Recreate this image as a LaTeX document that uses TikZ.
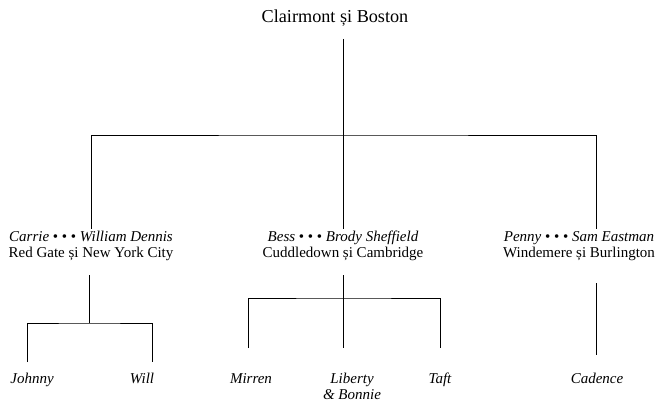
\documentclass[tikz,border=0pt]{standalone}
\usepackage{fontspec}
\setmainfont{Liberation Serif}
\usetikzlibrary{positioning}

\tikzset{
	family/.style={align=center, inner sep=0pt, anchor=base, font=\fontsize{15}{16.5}\selectfont},
	head/.style={family, font=\fontsize{18.2}{20}\selectfont},
	kid/.style={family, font=\fontsize{15}{16}\selectfont\itshape},
	branch/.style={draw=black, line width=0.8pt}
}

\begin{document}
\begin{tikzpicture}[x=1pt,y=-1pt]
	\useasboundingbox (0,0) rectangle (664,406);
	% ROOT
	\node[head] (root) at (335,23) {Clairmont și Boston};
	% COUPLES
	\node[family] (carrie) at (91,258) {\textit{Carrie} • • • \textit{William Dennis}\\Red Gate și New York City};
	\node[family] (bess) at (343,258) {\textit{Bess} • • • \textit{Brody Sheffield}\\Cuddledown și Cambridge};
	\node[family] (penny) at (579,258) {\textit{Penny} • • • \textit{Sam Eastman}\\Windemere și Burlington};
	% CHILDREN
	\node[kid] (johnny) at (32,383) {Johnny};
	\node[kid] (will) at (142,383) {Will};
	\node[kid] (mirren) at (251,383) {Mirren};
	\node[kid] (liberty) at (352,399) {Liberty\\\& Bonnie};
	\node[kid] (taft) at (440,383) {Taft};
	\node[kid] (cadence) at (597,383) {Cadence};

	% FIRST GENERATION
	\coordinate (root stem) at (343,39);
	\coordinate (top fork) at (343,135);
	\coordinate (carrie stem) at (91,229);
	\coordinate (bess stem) at (343,229);
	\coordinate (penny stem) at (596,229);
	\draw[branch] (root stem) -- (bess stem);
	\draw[branch] (carrie stem) |- (top fork) -| (penny stem);

	% SECOND GENERATION
	\coordinate (carrie drop) at (89,275);
	\coordinate (carrie fork) at (89,323);
	\coordinate (johnny stem) at (27,362);
	\coordinate (will stem) at (152,362);
	\draw[branch] (carrie drop) -- (carrie fork);
	\draw[branch] (johnny stem) |- (carrie fork) -| (will stem);

	\coordinate (bess drop) at (343,275);
	\coordinate (bess fork) at (343,298);
	\coordinate (mirren stem) at (248,348);
	\coordinate (liberty stem) at (343,348);
	\coordinate (taft stem) at (440,348);
	\draw[branch] (bess drop) -- (liberty stem);
	\draw[branch] (mirren stem) |- (bess fork) -| (taft stem);

	\coordinate (penny drop) at (596,283);
	\coordinate (cadence stem) at (596,355);
	\draw[branch] (penny drop) -- (cadence stem);
\end{tikzpicture}
\end{document}
